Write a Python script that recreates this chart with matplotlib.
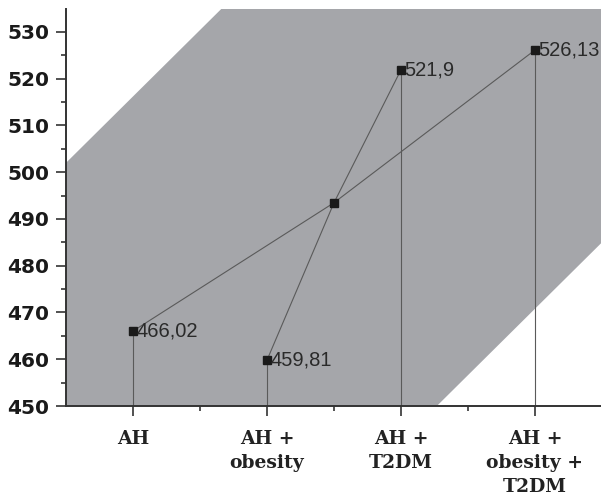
import numpy as np
import matplotlib.pyplot as plt

groups = ["AH", "AH +\nobesity", "AH +\nT2DM", "AH +\nobesity +\nT2DM"]
values = [466.02, 459.81, 521.9, 526.13]
value_labels = ["466,02", "459,81", "521,9", "526,13"]
center_value = 493.47

# gray band: two parallel edges (value at left edge x=0.5 and slope per category)
band_top_at_left = 502.0
band_bottom_at_left = 371.4
band_slope = 28.4

x = np.arange(1, len(groups) + 1)
x_center = 2.5

fig = plt.figure(figsize=(6.01, 4.99), dpi=100)
ax = fig.add_axes([66 / 601, 93 / 499, 536 / 601, 397 / 499])

xb = np.linspace(0.5, 4.7, 50)
ax.fill_between(xb, band_bottom_at_left + band_slope * (xb - 0.5),
                band_top_at_left + band_slope * (xb - 0.5),
                color="#a5a6aa", lw=0, zorder=0)

line_kw = dict(color="#5a5a5a", lw=0.8, zorder=2)
# crossing lines through the centre point
ax.plot([x[0], x_center, x[3]], [values[0], center_value, values[3]], **line_kw)
ax.plot([x[1], x_center, x[2]], [values[1], center_value, values[2]], **line_kw)
# drop lines
ax.vlines(x, 450, values, **line_kw)

ax.plot(x, values, "s", color="#1a1a1a", ms=6, zorder=3)
ax.plot([x_center], [center_value], "s", color="#1a1a1a", ms=6, zorder=3)

for xi, v, lab in zip(x, values, value_labels):
    ax.annotate(lab, (xi, v), xytext=(2.5, 0), textcoords="offset points",
                va="center", ha="left", fontsize=14.5, color="#2a2a2a",
                family="Liberation Sans", annotation_clip=False)

ax.set_xlim(0.5, 4.5)
ax.set_ylim(450, 534.9)
ax.set_xticks(x)
ax.set_xticks([1.5, 2.5, 3.5], minor=True)
ax.set_xticklabels(groups, family="DejaVu Serif", fontweight="bold",
                   fontsize=13.5, linespacing=1.45, color="#222222")
ax.set_yticks(np.arange(450, 531, 10))
ax.set_yticks(np.arange(455, 535, 10), minor=True)
for lab in ax.get_yticklabels():
    lab.set_fontweight("heavy")
    lab.set_fontsize(14.5)
    lab.set_color("#1a1a1a")

for s in ["top", "right"]:
    ax.spines[s].set_visible(False)
for s in ["left", "bottom"]:
    ax.spines[s].set_linewidth(1.4)
    ax.spines[s].set_color("#333333")
ax.tick_params(which="major", length=7, width=1.2, color="#333333")
ax.tick_params(which="minor", length=3.5, width=1.2, color="#333333")
ax.tick_params(axis="x", which="major", pad=10)
ax.tick_params(axis="y", which="major", pad=5)

fig.savefig("out.png", dpi=100)
